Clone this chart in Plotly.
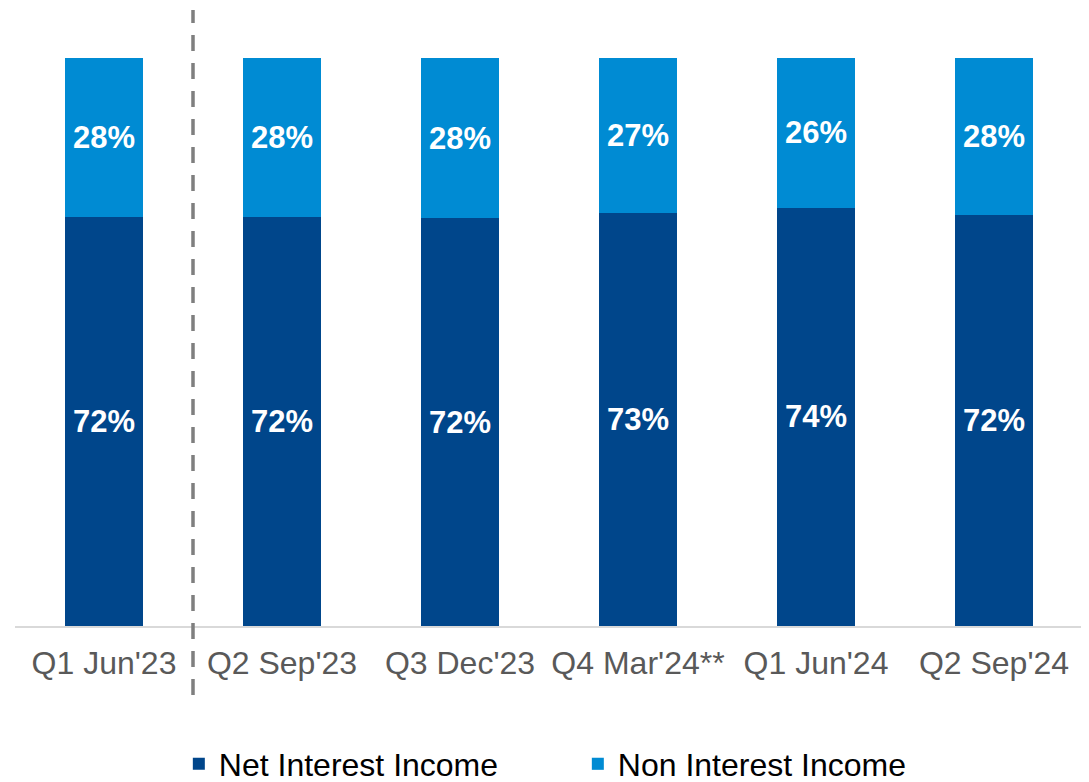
import plotly.graph_objects as go

quarters = ["Q1 Jun'23", "Q2 Sep'23", "Q3 Dec'23", "Q4 Mar'24**", "Q1 Jun'24", "Q2 Sep'24"]
net_interest = [72.0, 72.0, 71.8, 72.7, 73.6, 72.4]
non_interest = [28.0, 28.0, 28.2, 27.3, 26.4, 27.6]

nii_color = '#00468B'
non_color = '#008BD3'
font_family = 'Arial, Liberation Sans, sans-serif'

fig = go.Figure()
fig.add_trace(go.Bar(x=quarters, y=net_interest, name='Net Interest Income',
                     marker=dict(color=nii_color, line=dict(width=0)),
                     texttemplate='%{y:.0f}%', textposition='inside', insidetextanchor='middle',
                     textfont=dict(color='white', size=31, family=font_family, weight='bold')))
fig.add_trace(go.Bar(x=quarters, y=non_interest, name='Non Interest Income',
                     marker=dict(color=non_color, line=dict(width=0)),
                     texttemplate='%{y:.0f}%', textposition='inside', insidetextanchor='middle',
                     textfont=dict(color='white', size=31, family=font_family, weight='bold')))

# dashed separator between first quarter and the rest
fig.add_shape(type='line', xref='x', yref='paper', x0=0.5, x1=0.5, y0=-0.1215, y1=1.0845,
              line=dict(color='#7F7F7F', width=3.5, dash='16px,12px'))

# page body adds an 8px offset, margins are reduced accordingly
fig.update_layout(
    barmode='stack',
    bargap=0.567,
    width=1089, height=782,
    margin=dict(l=7, r=14, t=50, b=164, autoexpand=False),
    plot_bgcolor='white', paper_bgcolor='white',
    font=dict(family=font_family, size=32, color='#595959'),
    showlegend=True,
    legend=dict(orientation='h', x=0.1534, xanchor='left', y=-0.243, yanchor='middle',
                traceorder='normal', font=dict(size=32, color='#000000'),
                entrywidth=354, entrywidthmode='pixels', itemclick=False),
)
fig.update_xaxes(showline=True, linecolor='#D9D9D9', linewidth=2, showgrid=False,
                 ticks='outside', ticklen=8, tickcolor='rgba(0,0,0,0)',
                 tickfont=dict(size=32, color='#595959'))
fig.update_yaxes(range=[0, 100], visible=False, showgrid=False)

fig.write_html("out.html")
